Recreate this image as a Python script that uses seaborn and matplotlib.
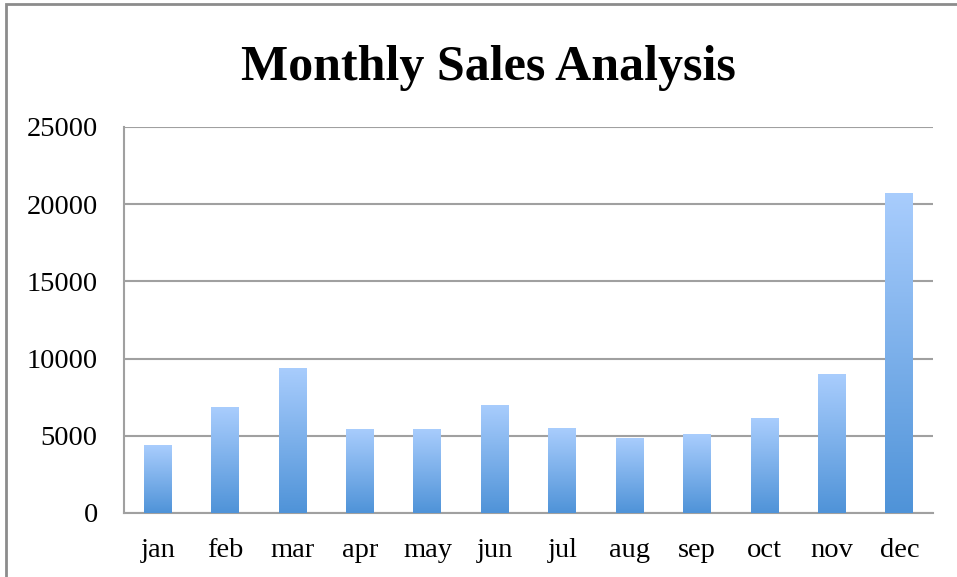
import matplotlib
matplotlib.use("Agg")
import matplotlib.pyplot as plt
import numpy as np
import pandas as pd
import seaborn as sns
from matplotlib.colors import LinearSegmentedColormap
from matplotlib.patches import Rectangle

months = ["jan", "feb", "mar", "apr", "may", "jun", "jul", "aug", "sep", "oct", "nov", "dec"]
sales = [4400, 6850, 9400, 5450, 5450, 7000, 5500, 4870, 5100, 6150, 9000, 20750]
y_ticks = [0, 5000, 10000, 15000, 20000, 25000]

df = pd.DataFrame({"month": months, "sales": sales})

sns.set_style("white")
plt.rcParams["font.family"] = ["Liberation Serif", "DejaVu Serif"]
plt.rcParams["text.color"] = "black"
plt.rcParams["xtick.color"] = "black"
plt.rcParams["ytick.color"] = "black"

fig = plt.figure(figsize=(9.57, 5.77), dpi=100)
ax = fig.add_axes([0.1296, 0.111, 0.8454, 0.669])

sns.barplot(data=df, x="month", y="sales", color="#6fa8e6", width=0.415, ax=ax)

# vertical gradient fill for each bar, light at top, darker at bottom
grad = LinearSegmentedColormap.from_list("bar_grad", ["#4f93d8", "#a9cdfd"])
for bar in ax.patches:
    x0, y0 = bar.get_x(), bar.get_y()
    w, h = bar.get_width(), bar.get_height()
    bar.set_facecolor("none")
    bar.set_edgecolor("none")
    img = ax.imshow(np.linspace(0, 1, 256).reshape(-1, 1), cmap=grad, origin="lower",
                    extent=[x0, x0 + w, y0, y0 + h], aspect="auto", zorder=3)
    img.set_clip_path(bar)

ax.set_xlim(-0.5, len(months) - 0.5)
ax.set_ylim(0, 25000)
ax.set_yticks(y_ticks)
ax.set_yticklabels([str(t) for t in y_ticks])
ax.set_xlabel("")
ax.set_ylabel("")
ax.yaxis.grid(True, color="#a0a0a0", linewidth=1.5)
ax.set_axisbelow(True)
for side in ["top", "right"]:
    ax.spines[side].set_visible(False)
for side in ["left", "bottom"]:
    ax.spines[side].set_color("#a0a0a0")
    ax.spines[side].set_linewidth(1.5)
ax.tick_params(axis="y", length=0, pad=19, labelsize=20.5)
ax.tick_params(axis="x", length=0, pad=18, labelsize=20.5)

fig.text(0.51, 0.882, "Monthly Sales Analysis", ha="center", va="center",
         fontsize=36, fontweight="bold", color="black")

# chart area border
fig.add_artist(Rectangle((6 / 957, -0.1), 1.2, 1.1 - 4 / 577, transform=fig.transFigure,
                         fill=False, edgecolor="#8c8c8c", linewidth=2))

fig.savefig("out.png", dpi=100)
plt.close(fig)
